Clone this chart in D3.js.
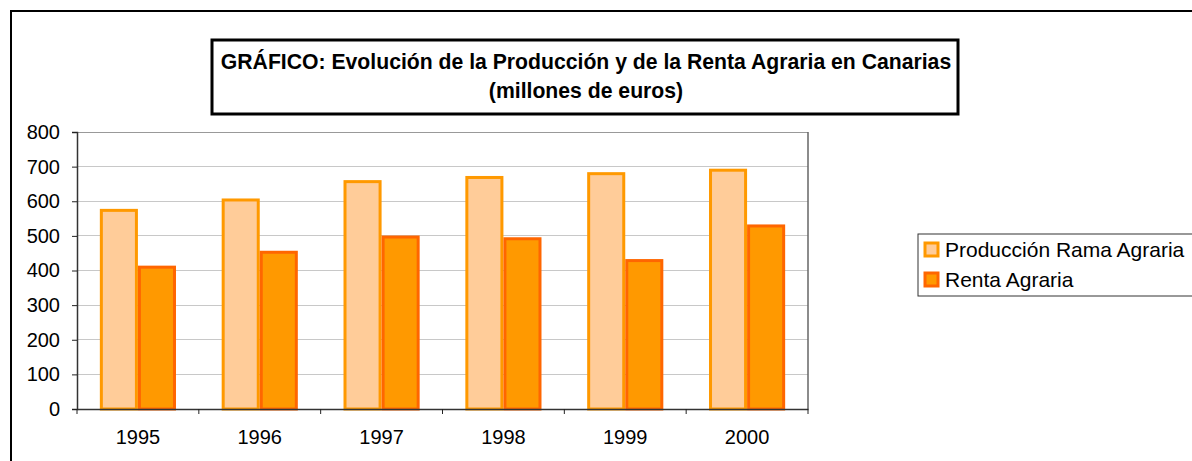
<!DOCTYPE html>
<html><head><meta charset="utf-8">
<script src="https://cdn.jsdelivr.net/npm/d3@7"></script>
<style>body{margin:0;background:#fff}svg{display:block;font-family:"Liberation Sans",Arial,sans-serif}</style>
</head><body>
<svg id="c" width="1192" height="461"></svg>
<script>
const categories = ["1995","1996","1997","1998","1999","2000"];
const seriesNames = ["Producción Rama Agraria","Renta Agraria"];
const produccion = [578, 608, 661, 673, 684, 694];
const renta = [414, 457, 501, 496, 433, 533];
const yTicks = [0,100,200,300,400,500,600,700,800];
const titleLines = ["GRÁFICO: Evolución de la Producción y de la Renta Agraria en Canarias","(millones de euros)"];

const fills = ["#FFCC99","#FF9900"];
const strokes = ["#FF9900","#FF6600"];
const FONT = "Liberation Sans, Arial, sans-serif";

const svg = d3.select("#c");
// outer frame
svg.append("rect").attr("x",11).attr("y",11).attr("width",1200).attr("height",470)
  .attr("fill","none").attr("stroke","#000").attr("stroke-width",2);

// title box
svg.append("rect").attr("x",212).attr("y",40).attr("width",746).attr("height",74)
  .attr("fill","#fff").attr("stroke","#000").attr("stroke-width",3);
svg.selectAll(".title").data(titleLines).enter().append("text")
  .attr("x",586).attr("y",(d,i)=>69+i*29).attr("text-anchor","middle")
  .attr("font-weight","bold").attr("font-size","21.2px").attr("fill","#000").attr("font-family",FONT).text(d=>d);

const L=77,R=808,T=132,B=409;
const x = d3.scaleBand().domain(categories).range([L,R]).paddingInner(0).paddingOuter(0);
const y = d3.scaleLinear().domain([0,800]).range([B,T]);
const inner = d3.scaleBand().domain(seriesNames).range([0,x.bandwidth()]).paddingInner(0).paddingOuter(0.6);

// grid
svg.append("g").selectAll("line").data(yTicks.filter(d=>d>0)).enter().append("line")
  .attr("x1",L).attr("x2",R).attr("y1",d=>y(d)).attr("y2",d=>y(d))
  .attr("stroke",d=>d===800?"#999":"#c8c8c8").attr("stroke-width",1).attr("shape-rendering","crispEdges");
// right border of plot
svg.append("line").attr("x1",R).attr("x2",R).attr("y1",T).attr("y2",B)
  .attr("stroke","#666").attr("stroke-width",1.5);

const data = [produccion, renta];
const g = svg.append("g");
categories.forEach((c,i)=>{
  seriesNames.forEach((s,j)=>{
    const v = data[j][i];
    g.append("rect")
      .attr("x",x(c)+inner(s)+1.5).attr("y",y(v)+1.5)
      .attr("width",inner.bandwidth()-3).attr("height",y(0)-y(v)-1.5)
      .attr("fill",fills[j]).attr("stroke",strokes[j]).attr("stroke-width",3);
  });
});

// y axis
const yAxis = d3.axisLeft(y).tickValues(yTicks).tickSize(5).tickPadding(12);
const ya = svg.append("g").attr("transform",`translate(${L},0)`).call(yAxis);
ya.select(".domain").attr("stroke","#333").attr("stroke-width",1.5);
ya.selectAll(".tick line").attr("stroke","#222");
ya.selectAll("text").attr("font-size","20px").attr("fill","#000").attr("font-family",FONT);

// x axis
const xAxis = d3.axisBottom(x).tickSize(0).tickPadding(21);
const xa = svg.append("g").attr("transform",`translate(0,${B})`).call(xAxis);
xa.select(".domain").attr("stroke","#333").attr("stroke-width",1.5);
xa.selectAll("text").attr("font-size","20px").attr("fill","#000").attr("font-family",FONT);
// category boundary ticks
xa.append("g").selectAll("line").data(categories.concat(["end"])).enter().append("line")
  .attr("x1",(d,i)=>L+i*x.step()).attr("x2",(d,i)=>L+i*x.step())
  .attr("y1",0).attr("y2",5).attr("stroke","#222");

// legend
svg.append("rect").attr("x",918).attr("y",234).attr("width",290).attr("height",62)
  .attr("fill","#fff").attr("stroke","#333").attr("stroke-width",1);
const lg = svg.append("g").selectAll("g").data(seriesNames).enter().append("g")
  .attr("transform",(d,i)=>`translate(925,${243+i*30})`);
lg.append("rect").attr("x",0).attr("y",0).attr("width",13).attr("height",13)
  .attr("fill",(d,i)=>fills[i]).attr("stroke",(d,i)=>strokes[i]).attr("stroke-width",3);
lg.append("text").attr("x",20).attr("y",14).attr("font-size","21px").attr("fill","#000").attr("font-family",FONT).text(d=>d);
</script>
</body></html>
